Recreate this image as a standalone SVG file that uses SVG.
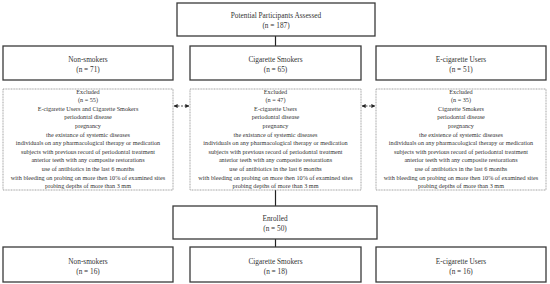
<svg xmlns="http://www.w3.org/2000/svg" width="550" height="284" viewBox="0 0 550 284">
<defs>
<style>
.box{fill:#fff;stroke:#3a3a3a;stroke-width:1.3}
.ex{fill:#fff;stroke:#8a8a8a;stroke-width:0.8;stroke-dasharray:1 0.6}
.t{font-family:"Liberation Serif","Times New Roman",serif;font-size:7.3px;fill:#333;text-anchor:middle}
.s{font-family:"Liberation Serif","Times New Roman",serif;font-size:6.2px;fill:#333;text-anchor:middle}
.ln{stroke:#222;stroke-width:1.2;fill:none}
.da{stroke:#222;stroke-width:0.8;fill:none;stroke-dasharray:2 1.5}
</style>
<marker id="ah" viewBox="0 0 6 6" refX="5.5" refY="3" markerWidth="4" markerHeight="4" orient="auto-start-reverse" markerUnits="userSpaceOnUse">
<path d="M0,0 L6,3 L0,6 z" fill="#222"/>
</marker>
</defs>
<g id="connectors">
<line class="ln" x1="275.5" y1="36" x2="275.5" y2="46"/>
<line class="ln" x1="275.5" y1="190" x2="275.5" y2="206"/>
<line class="ln" x1="275.5" y1="239" x2="275.5" y2="247"/>
<line class="da" x1="174" y1="106" x2="189" y2="106" marker-start="url(#ah)" marker-end="url(#ah)"/>
<line class="da" x1="362" y1="106" x2="375" y2="106" marker-start="url(#ah)" marker-end="url(#ah)"/>
</g>
<g id="assessed">
<rect class="box" x="177" y="3" width="198" height="33"/>
<text class="t" x="276" y="17.5">Potential Participants Assessed</text>
<text class="t" x="276" y="27.5">(n = 187)</text>
</g>
<g id="nonsmokers">
<rect class="box" x="3" y="46" width="170" height="34"/>
<text class="t" x="88" y="61.5">Non-smokers</text>
<text class="t" x="88" y="71.5">(n = 71)</text>
</g>
<g id="smokers">
<rect class="box" x="190" y="46" width="171" height="34"/>
<text class="t" x="275.5" y="61.5">Cigarette Smokers</text>
<text class="t" x="275.5" y="71.5">(n = 65)</text>
</g>
<g id="ecig">
<rect class="box" x="376" y="46" width="170" height="34"/>
<text class="t" x="461" y="61.5">E-cigarette Users</text>
<text class="t" x="461" y="71.5">(n = 51)</text>
</g>
<g id="excluded-nonsmokers">
<rect class="ex" x="3" y="89" width="170" height="101"/>
<text class="s" x="88" y="93.5">Excluded</text>
<text class="s" x="88" y="102.1">(n = 55)</text>
<text class="s" x="88" y="110.7">E-cigarette Users and Cigarette Smokers</text>
<text class="s" x="88" y="119.3">periodontal disease</text>
<text class="s" x="88" y="127.9">pregnancy</text>
<text class="s" x="88" y="136.5">the existance of systemic diseases</text>
<text class="s" x="88" y="145.1">individuals on any pharmacological therapy or medication</text>
<text class="s" x="88" y="153.7">subjects with previous record of periodontal treatment</text>
<text class="s" x="88" y="162.3">anterior teeth with any composite restorations</text>
<text class="s" x="88" y="170.9">use of antibiotics in the last 6 months</text>
<text class="s" x="88" y="179.5">with bleeding on probing on more then 10% of examined sites</text>
<text class="s" x="88" y="188.1">probing depths of more than 3 mm</text>
</g>
<g id="excluded-smokers">
<rect class="ex" x="190" y="89" width="171" height="101"/>
<text class="s" x="275.5" y="93.5">Excluded</text>
<text class="s" x="275.5" y="102.1">(n = 47)</text>
<text class="s" x="275.5" y="110.7">E-cigarette Users</text>
<text class="s" x="275.5" y="119.3">periodontal disease</text>
<text class="s" x="275.5" y="127.9">pregnancy</text>
<text class="s" x="275.5" y="136.5">the existance of systemic diseases</text>
<text class="s" x="275.5" y="145.1">individuals on any pharmacological therapy or medication</text>
<text class="s" x="275.5" y="153.7">subjects with previous record of periodontal treatment</text>
<text class="s" x="275.5" y="162.3">anterior teeth with any composite restorations</text>
<text class="s" x="275.5" y="170.9">use of antibiotics in the last 6 months</text>
<text class="s" x="275.5" y="179.5">with bleeding on probing on more then 10% of examined sites</text>
<text class="s" x="275.5" y="188.1">probing depths of more than 3 mm</text>
</g>
<g id="excluded-ecig">
<rect class="ex" x="376" y="89" width="170" height="101"/>
<text class="s" x="461" y="93.5">Excluded</text>
<text class="s" x="461" y="102.1">(n = 35)</text>
<text class="s" x="461" y="110.7">Cigarette Smokers</text>
<text class="s" x="461" y="119.3">periodontal disease</text>
<text class="s" x="461" y="127.9">pregnancy</text>
<text class="s" x="461" y="136.5">the existence of systemic diseases</text>
<text class="s" x="461" y="145.1">individuals on any pharmacological therapy or medication</text>
<text class="s" x="461" y="153.7">subjects with previous record of periodontal treatment</text>
<text class="s" x="461" y="162.3">anterior teeth with any composite restorations</text>
<text class="s" x="461" y="170.9">use of antibiotics in the last 6 months</text>
<text class="s" x="461" y="179.5">with bleeding on probing on more then 10% of examined sites</text>
<text class="s" x="461" y="188.1">probing depths of more than 3 mm</text>
</g>
<g id="enrolled">
<rect class="box" x="173" y="206" width="204" height="33"/>
<text class="t" x="275" y="220.5">Enrolled</text>
<text class="t" x="275" y="230.5">(n = 50)</text>
</g>
<g id="nonsmokers-final">
<rect class="box" x="3" y="247" width="170" height="35"/>
<text class="t" x="88" y="263.5">Non-smokers</text>
<text class="t" x="88" y="273.5">(n = 16)</text>
</g>
<g id="smokers-final">
<rect class="box" x="190" y="247" width="171" height="35"/>
<text class="t" x="275.5" y="263.5">Cigarette Smokers</text>
<text class="t" x="275.5" y="273.5">(n = 18)</text>
</g>
<g id="ecig-final">
<rect class="box" x="376" y="247" width="170" height="35"/>
<text class="t" x="461" y="263.5">E-cigarette Users</text>
<text class="t" x="461" y="273.5">(n = 16)</text>
</g>
</svg>
